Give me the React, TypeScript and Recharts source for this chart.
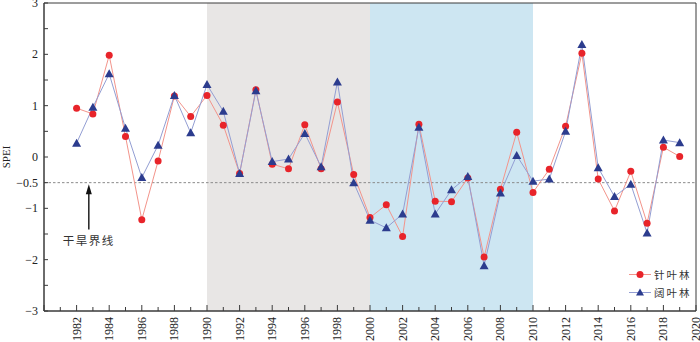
import {
  LineChart, Line, XAxis, YAxis, ReferenceArea, ReferenceLine, Legend
} from 'recharts'

const years = [
  1982, 1983, 1984, 1985, 1986, 1987, 1988, 1989, 1990, 1991,
  1992, 1993, 1994, 1995, 1996, 1997, 1998, 1999, 2000, 2001,
  2002, 2003, 2004, 2005, 2006, 2007, 2008, 2009, 2010, 2011,
  2012, 2013, 2014, 2015, 2016, 2017, 2018, 2019,
]

// 针叶林 SPEI
const conifer = [
  0.95, 0.84, 1.98, 0.40, -1.22, -0.08, 1.19, 0.79, 1.20, 0.62,
  -0.32, 1.31, -0.14, -0.23, 0.63, -0.23, 1.07, -0.34, -1.18, -0.93,
  -1.55, 0.64, -0.86, -0.87, -0.41, -1.95, -0.63, 0.48, -0.69, -0.24,
  0.60, 2.02, -0.43, -1.05, -0.28, -1.29, 0.19, 0.01,
]

// 阔叶林 SPEI
const broadleaf = [
  0.27, 0.97, 1.62, 0.56, -0.40, 0.23, 1.20, 0.47, 1.41, 0.89,
  -0.32, 1.29, -0.09, -0.04, 0.46, -0.19, 1.46, -0.50, -1.23, -1.38,
  -1.11, 0.58, -1.11, -0.64, -0.38, -2.12, -0.70, 0.03, -0.47, -0.43,
  0.50, 2.19, -0.21, -0.77, -0.53, -1.48, 0.33, 0.28,
]

const xTicks = [
  1980, 1981, 1982, 1983, 1984, 1985, 1986, 1987, 1988, 1989,
  1990, 1991, 1992, 1993, 1994, 1995, 1996, 1997, 1998, 1999,
  2000, 2001, 2002, 2003, 2004, 2005, 2006, 2007, 2008, 2009,
  2010, 2011, 2012, 2013, 2014, 2015, 2016, 2017, 2018, 2019, 2020,
]
const xLabelFrom = 1982

const yTicks = [-3, -2.5, -2, -1.5, -1, -0.5, 0, 0.5, 1, 1.5, 2, 2.5, 3]
const yLabeled = [-3, -2, -1, -0.5, 0, 1, 2, 3]

const droughtLine = -0.5
const periods = [
  { from: 1990, to: 2000, fill: '#e8e6e5' },
  { from: 2000, to: 2010, fill: '#cde6f2' },
]

const RED = '#e8242a'
const RED_LINE = '#f3948b'
const BLUE = '#2c3c8e'
const BLUE_LINE = '#939ed3'
const AXIS = '#3a3a3a'
const SERIF = '"Liberation Serif", "Times New Roman", serif'
const CJK = '"Noto Sans CJK SC", sans-serif'

const data = years.map((year, i) => ({ year, conifer: conifer[i], broadleaf: broadleaf[i] }))

const fmt = (v: number) => (v < 0 ? `\u2212${Math.abs(v)}` : `${v}`)

// eslint-disable-next-line @typescript-eslint/no-explicit-any
function XTick({ x, y, payload }: any) {
  const v = payload.value
  const major = v % 2 === 0
  const showLabel = v >= xLabelFrom && major
  return (
    <g>
      <line x1={x} y1={y} x2={x} y2={y - (major ? 6 : 4)} stroke={AXIS} />
      {showLabel && (
        <text
          x={x}
          y={y + 6}
          transform={`rotate(-90 ${x} ${y + 6})`}
          textAnchor="end"
          dominantBaseline="central"
          fontFamily={SERIF}
          fontSize={12}
          fill="#222"
        >
          {v}
        </text>
      )}
    </g>
  )
}

// eslint-disable-next-line @typescript-eslint/no-explicit-any
function YTick({ x, y, payload }: any) {
  const v = payload.value
  return (
    <g>
      <line x1={x} y1={y} x2={x + 4} y2={y} stroke={AXIS} />
      {yLabeled.includes(v) && (
        <text
          x={x - 6}
          y={y}
          textAnchor="end"
          dominantBaseline="central"
          fontFamily={SERIF}
          fontSize={12}
          fill="#222"
        >
          {fmt(v)}
        </text>
      )}
    </g>
  )
}

// eslint-disable-next-line @typescript-eslint/no-explicit-any
function TriangleDot({ cx, cy, index }: any) {
  if (cx == null || cy == null) return null
  return (
    <polygon
      key={`tri-${index}`}
      points={`${cx},${cy - 4.5} ${cx - 4.5},${cy + 3.5} ${cx + 4.5},${cy + 3.5}`}
      fill={BLUE}
    />
  )
}

// eslint-disable-next-line @typescript-eslint/no-explicit-any
function ArrowShape({ x1, y1, x2, y2 }: any) {
  return (
    <g>
      <line x1={x1} y1={y1} x2={x2} y2={y2 + 8} stroke="#111" strokeWidth={1.4} />
      <polygon points={`${x2},${y2} ${x2 - 3},${y2 + 10} ${x2 + 3},${y2 + 10}`} fill="#111" />
      <text
        x={x1}
        y={y1 + 5}
        textAnchor="middle"
        dominantBaseline="hanging"
        fontFamily={CJK}
        fontSize={11.5}
        letterSpacing={1.5}
        fill="#333"
      >
        干旱界线
      </text>
    </g>
  )
}

function LegendBox() {
  const rows = [
    { name: '针叶林', line: RED_LINE, y: 8.5, kind: 'circle' },
    { name: '阔叶林', line: BLUE_LINE, y: 26.5, kind: 'tri' },
  ]
  return (
    <svg width={76} height={36}>
      {rows.map((r) => (
        <g key={r.name}>
          <line x1={4} y1={r.y} x2={26} y2={r.y} stroke={r.line} />
          {r.kind === 'circle'
            ? <circle cx={15} cy={r.y} r={3.5} fill={RED} />
            : <polygon points={`15,${r.y - 4} 11,${r.y + 3} 19,${r.y + 3}`} fill={BLUE} />}
          <text
            x={29}
            y={r.y}
            dominantBaseline="central"
            fontFamily={CJK}
            fontSize={10.5}
            letterSpacing={2}
            fill="#333"
          >
            {r.name}
          </text>
        </g>
      ))}
    </svg>
  )
}

export default function App() {
  return (
    <div style={{ position: 'absolute', left: 0, top: 0, background: '#fff' }}>
      <LineChart
        width={700}
        height={342}
        data={data}
        margin={{ top: 3, right: 4, bottom: 0, left: 0 }}
      >
        {periods.map((p) => (
          <ReferenceArea
            key={p.from}
            x1={p.from}
            x2={p.to}
            y1={-3}
            y2={3}
            fill={p.fill}
            fillOpacity={1}
            stroke="none"
          />
        ))}
        <ReferenceArea x1={1980} x2={2020} y1={-3} y2={3} fill="none" stroke={AXIS} />
        <XAxis
          dataKey="year"
          type="number"
          domain={[1980, 2020]}
          ticks={xTicks}
          interval={0}
          height={31}
          tickSize={0}
          tickMargin={0}
          tickLine={false}
          axisLine={{ stroke: AXIS }}
          tick={<XTick />}
        />
        <YAxis
          type="number"
          domain={[-3, 3]}
          ticks={yTicks}
          interval={0}
          width={44}
          tickSize={0}
          tickMargin={0}
          tickLine={false}
          axisLine={{ stroke: AXIS }}
          tick={<YTick />}
          label={{
            value: 'SPEI',
            angle: -90,
            position: 'insideLeft',
            offset: 0,
            dx: 6,
            style: { fontFamily: SERIF, fontSize: 11, fill: '#222', textAnchor: 'middle' },
          }}
        />
        <ReferenceLine y={droughtLine} stroke="#8a8a8a" strokeDasharray="2.5 2" />
        <ReferenceLine
          segment={[{ x: 1982.75, y: -1.41 }, { x: 1982.75, y: -0.53 }]}
          shape={<ArrowShape />}
        />
        <Line
          type="linear"
          dataKey="conifer"
          name="针叶林"
          stroke={RED_LINE}
          strokeWidth={1}
          dot={{ r: 3.5, fill: RED, stroke: 'none' }}
          activeDot={false}
          isAnimationActive={false}
        />
        <Line
          type="linear"
          dataKey="broadleaf"
          name="阔叶林"
          stroke={BLUE_LINE}
          strokeWidth={1}
          dot={<TriangleDot />}
          activeDot={false}
          isAnimationActive={false}
        />
        <Legend
          layout="horizontal"
          verticalAlign="middle"
          align="center"
          content={<LegendBox />}
          wrapperStyle={{ left: 625, top: 266, width: 76, height: 36, bottom: 'auto', right: 'auto' }}
        />
      </LineChart>
    </div>
  )
}
